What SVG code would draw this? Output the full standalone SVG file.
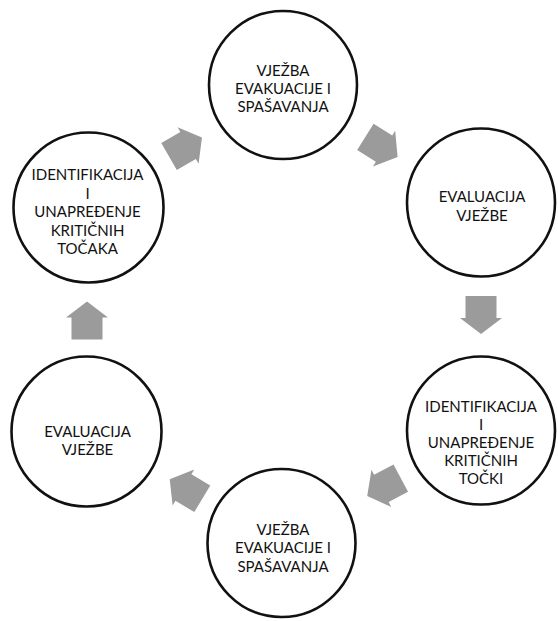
<svg xmlns="http://www.w3.org/2000/svg" width="558" height="621" viewBox="0 0 558 621">
<style>
.node circle{fill:#fff;stroke:#111;stroke-width:2.6}
.node text{font-family:Lato,"Liberation Sans",sans-serif;font-size:15px;fill:#111;text-anchor:middle}
.arrow{fill:#9b9b9b}
</style>
<defs>
<polygon id="blk" points="-19,-15.5 3,-15.5 3,-21 19,0 3,21 3,15.5 -19,15.5"/>
</defs>
<rect width="558" height="621" fill="#fff"/>
<g id="connectors">
<use href="#blk" class="arrow" transform="translate(185.5,147) rotate(-30)"/>
<use href="#blk" class="arrow" transform="translate(381.5,147) rotate(32)"/>
<use href="#blk" class="arrow" transform="translate(481,315) rotate(90)"/>
<use href="#blk" class="arrow" transform="translate(384,487) rotate(152)"/>
<use href="#blk" class="arrow" transform="translate(186,489) rotate(211)"/>
<use href="#blk" class="arrow" transform="translate(87,320.5) rotate(-90)"/>
</g>
<g id="n1" class="node">
<circle cx="283" cy="85" r="74"/>
<text x="283" y="75.5">VJEŽBA</text>
<text x="283" y="93.5">EVAKUACIJE I</text>
<text x="283" y="111.5">SPAŠAVANJA</text>
</g>
<g id="n2" class="node">
<circle cx="481" cy="202.5" r="74"/>
<text x="482" y="201.5">EVALUACIJA</text>
<text x="482" y="220.5">VJEŽBE</text>
</g>
<g id="n3" class="node">
<circle cx="481" cy="430.5" r="74"/>
<text x="481" y="411.5">IDENTIFIKACIJA</text>
<text x="481" y="429.5">I</text>
<text x="481" y="447.5">UNAPREĐENJE</text>
<text x="481" y="465.5">KRITIČNIH</text>
<text x="481" y="483.5">TOČKI</text>
</g>
<g id="n4" class="node">
<circle cx="281.5" cy="543" r="74"/>
<text x="283" y="535">VJEŽBA</text>
<text x="283" y="553">EVAKUACIJE I</text>
<text x="283" y="571.5">SPAŠAVANJA</text>
</g>
<g id="n5" class="node">
<circle cx="86.5" cy="431.5" r="75"/>
<text x="87.5" y="436.5">EVALUACIJA</text>
<text x="87.5" y="455">VJEŽBE</text>
</g>
<g id="n6" class="node">
<circle cx="88.5" cy="207.5" r="75"/>
<text x="87.5" y="180">IDENTIFIKACIJA</text>
<text x="87.5" y="198.5">I</text>
<text x="87.5" y="217">UNAPREĐENJE</text>
<text x="87.5" y="235.5">KRITIČNIH</text>
<text x="87.5" y="254">TOČAKA</text>
</g>
</svg>
